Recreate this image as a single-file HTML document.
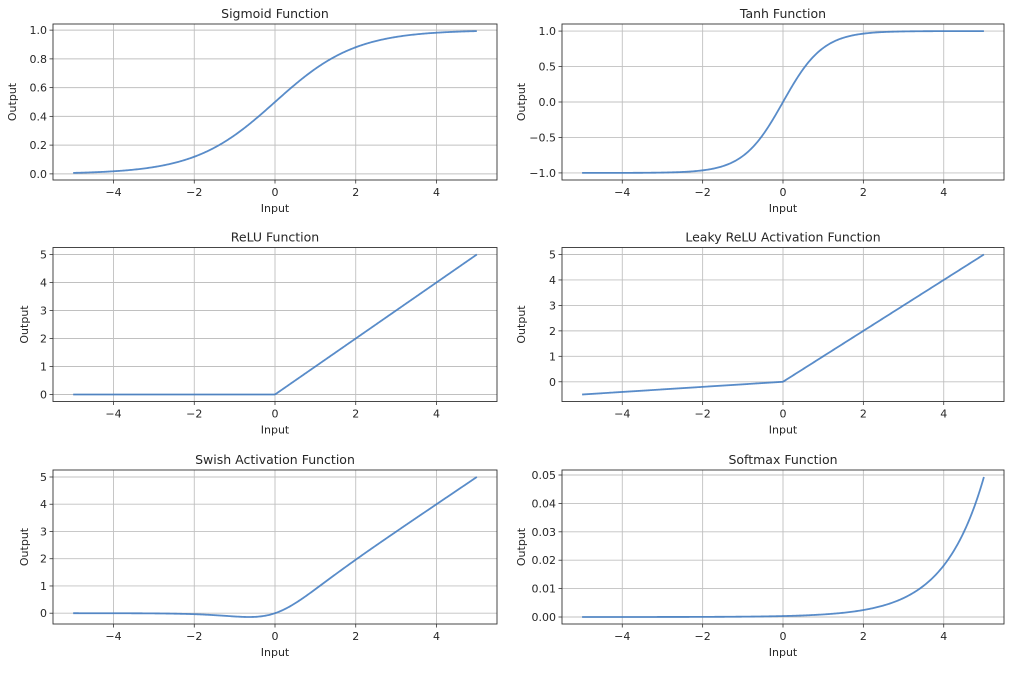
<!DOCTYPE html>
<html><head><meta charset="utf-8"><style>
html,body{margin:0;padding:0;background:#fff;}
svg text{font-family:"DejaVu Sans","Liberation Sans",sans-serif;fill:#262626;}
</style></head><body>
<svg id="s" width="1024" height="674" xmlns="http://www.w3.org/2000/svg"></svg>
<script>
const S=document.getElementById('s');let h='';
const rows=[[24,180],[247.5,401.5],[470,624]],cols=[[53,497],[562,1004]];
const sig=x=>1/(1+Math.exp(-x));
const P=[
 {t:'Sigmoid Function',f:sig,yt:[0,0.2,0.4,0.6,0.8,1.0],fmt:v=>v.toFixed(1)},
 {t:'Tanh Function',f:Math.tanh,yt:[-1,-0.5,0,0.5,1],fmt:v=>(v<0?'\u2212':'')+Math.abs(v).toFixed(1)},
 {t:'ReLU Function',f:x=>Math.max(0,x),yt:[0,1,2,3,4,5],fmt:v=>''+v},
 {t:'Leaky ReLU Activation Function',f:x=>x>0?x:0.1*x,yt:[0,1,2,3,4,5],fmt:v=>''+v},
 {t:'Swish Activation Function',f:x=>x*sig(2*x),yt:[0,1,2,3,4,5],fmt:v=>''+v},
 {t:'Softmax Function',f:x=>0.0493*Math.exp(x-5),yt:[0,0.01,0.02,0.03,0.04,0.05],fmt:v=>v.toFixed(2)}
];
P.forEach((p,i)=>{
 const [x0,x1]=cols[i%2],[y0,y1]=rows[Math.floor(i/2)];
 const N=400,xs=[],ys=[];
 for(let k=0;k<N;k++){const x=-5+10*k/(N-1);xs.push(x);ys.push(p.f(x));}
 let mn=Math.min(...ys),mx=Math.max(...ys),pd=(mx-mn)*0.05;mn-=pd;mx+=pd;
 const X=x=>x0+(x+5.5)/11*(x1-x0),Y=y=>y1-(y-mn)/(mx-mn)*(y1-y0);
 [-4,-2,0,2,4].forEach(v=>{const px=X(v);
  h+=`<line x1="${px}" y1="${y0}" x2="${px}" y2="${y1}" stroke="#c0c0c0" stroke-width="0.9"/>`;
  h+=`<line x1="${px}" y1="${y1}" x2="${px}" y2="${y1+3.5}" stroke="#333" stroke-width="0.8"/>`;
  h+=`<text x="${px}" y="${y1+16}" font-size="11" text-anchor="middle">${v<0?'\u2212'+(-v):v}</text>`;});
 p.yt.forEach(v=>{const py=Y(v);
  h+=`<line x1="${x0}" y1="${py}" x2="${x1}" y2="${py}" stroke="#c0c0c0" stroke-width="0.9"/>`;
  h+=`<line x1="${x0-3.5}" y1="${py}" x2="${x0}" y2="${py}" stroke="#333" stroke-width="0.8"/>`;
  h+=`<text x="${x0-6}" y="${py+4}" font-size="11" text-anchor="end">${p.fmt(v)}</text>`;});
 let d='';xs.forEach((x,k)=>{d+=(k?'L':'M')+X(x).toFixed(2)+' '+Y(ys[k]).toFixed(2);});
 h+=`<path d="${d}" fill="none" stroke="#3c78bf" stroke-opacity="0.85" stroke-width="1.8"/>`;
 h+=`<rect x="${x0}" y="${y0}" width="${x1-x0}" height="${y1-y0}" fill="none" stroke="#333" stroke-width="0.9"/>`;
 h+=`<text x="${(x0+x1)/2}" y="${y0-6}" font-size="12.5" text-anchor="middle">${p.t}</text>`;
 h+=`<text x="${(x0+x1)/2}" y="${y1+32}" font-size="11" text-anchor="middle">Input</text>`;
 const lx=(i==2||i==4)?x0-25:x0-37;
 h+=`<text transform="translate(${lx},${(y0+y1)/2}) rotate(-90)" font-size="11" text-anchor="middle">Output</text>`;
});
S.innerHTML=h;
</script>
</body></html>
